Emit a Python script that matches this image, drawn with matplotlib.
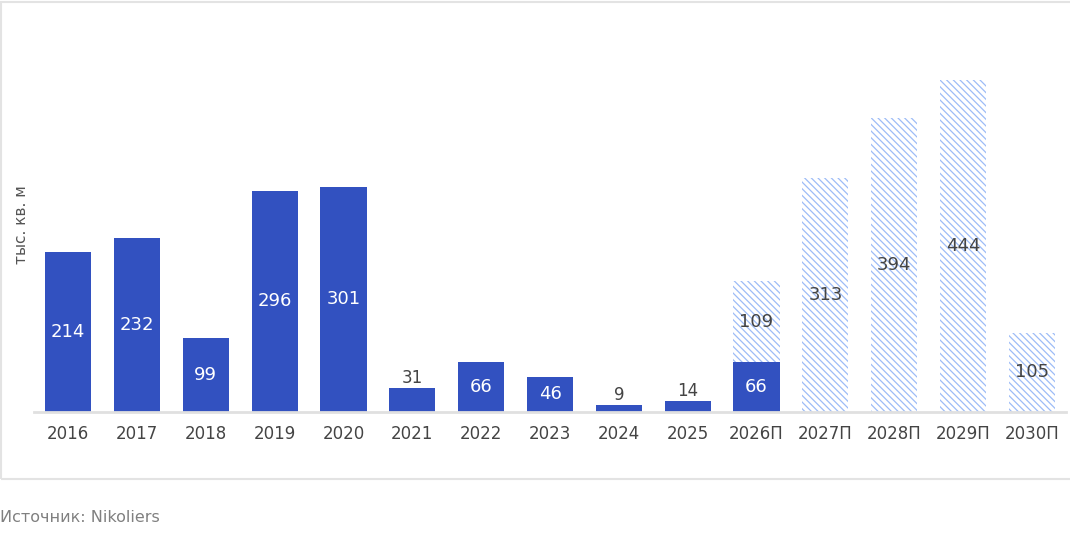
import matplotlib
matplotlib.use("Agg")
import matplotlib.pyplot as plt
from matplotlib.patches import Rectangle

categories = ["2016", "2017", "2018", "2019", "2020", "2021", "2022", "2023",
              "2024", "2025", "2026П", "2027П", "2028П", "2029П", "2030П"]
actual = [214, 232, 99, 296, 301, 31, 66, 46, 9, 14, 66, 0, 0, 0, 0]
forecast = [0, 0, 0, 0, 0, 0, 0, 0, 0, 0, 109, 313, 394, 444, 105]
y_label = "тыс. кв. м"
source = "Источник: Nikoliers"

BLUE = "#3251c0"
HATCH = "#9dbcf7"
DARK = "#444444"

plt.rcParams["font.family"] = ["DejaVu Sans"]
plt.rcParams["hatch.linewidth"] = 0.9

fig = plt.figure(figsize=(10.7, 5.38), dpi=100)
ax = fig.add_axes([33.6 / 1070, (538 - 411.5) / 538, (1066.4 - 33.6) / 1070, 373 / 538])

x = list(range(len(categories)))
w = 0.67
ax.bar(x, actual, width=w, color=BLUE, linewidth=0, zorder=2)
ax.bar(x, forecast, width=w, bottom=actual, color="white", edgecolor=HATCH,
       hatch="\\\\\\\\\\", linewidth=0, zorder=2)

small_threshold = 40
for i in x:
    a = actual[i]
    f = forecast[i]
    if a > 0:
        if a < small_threshold and f == 0:
            ax.text(i, a + 1.5, str(a), ha="center", va="bottom", color=DARK, fontsize=12)
        else:
            ax.text(i, a / 2, str(a), ha="center", va="center", color="white", fontsize=13)
    if f > 0:
        ax.text(i, a + f / 2, str(f), ha="center", va="center", color=DARK, fontsize=13)

ax.set_xlim(-0.5, len(categories) - 0.5)
ax.set_ylim(0, 500)
ax.set_xticks(x)
ax.set_xticklabels(categories, fontsize=12, color=DARK)
ax.tick_params(axis="x", length=0, pad=10)
ax.set_yticks([])
for s in ["top", "right", "left"]:
    ax.spines[s].set_visible(False)
ax.spines["bottom"].set_color("#e0e0e0")
ax.spines["bottom"].set_linewidth(2)
ax.spines["bottom"].set_zorder(3)

fig.text(22 / 1070, 1 - 225 / 538, y_label, rotation=90, ha="center", va="center",
         fontsize=11, color="#555555")
fig.text(0, 1 - 518 / 538, source, ha="left", va="center", fontsize=11.5, color="#808080")

border = Rectangle((1.5 / 1070, (538 - 479) / 538), 1.1, (479 - 1.5) / 538,
                   transform=fig.transFigure, fill=False, edgecolor="#e3e3e3",
                   linewidth=1.5, clip_on=False)
fig.patches.append(border)

fig.savefig("out.png", dpi=100, facecolor="white")
